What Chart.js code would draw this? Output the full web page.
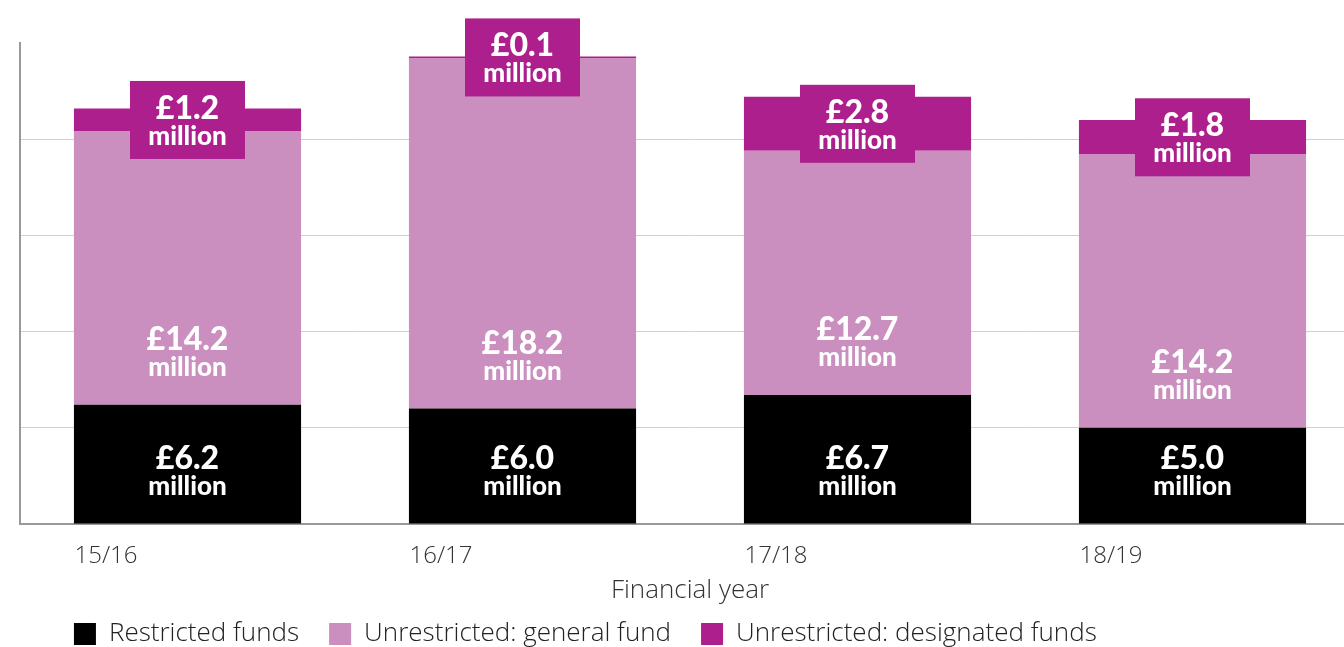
<!DOCTYPE html>
<html>
<head>
<meta charset="utf-8">
<script src="https://cdn.jsdelivr.net/npm/chart.js@4.4.0/dist/chart.umd.min.js"></script>
<style>
  html, body { margin: 0; padding: 0; background: #fff; overflow: hidden; }
  #wrap { width: 1380px; height: 670px; position: relative; }
</style>
</head>
<body>
<div id="wrap"><canvas id="reserves"></canvas></div>
<script>
const years = ['15/16', '16/17', '17/18', '18/19'];
const restricted = [6.2, 6.0, 6.7, 5.0];
const generalFund = [14.2, 18.2, 12.7, 14.2];
const designated = [1.2, 0.1, 2.8, 1.8];
const seriesNames = ['Restricted funds', 'Unrestricted: general fund', 'Unrestricted: designated funds'];
const yTicks = [0, 5, 10, 15, 20, 25];

const BLACK = '#000000';
const PINK = '#ca8ebf';
const MAGENTA = '#ac1f8d';
const BAR_PCT = 0.678;
const tickFont = { family: '"Open Sans"', size: 24, weight: '300' };
const textFont = { family: '"Open Sans"', size: 26, weight: '300' };

// white "£x.x million" labels; the top series sits on a magenta tab
const segmentLabels = {
  id: 'segmentLabels',
  afterDatasetsDraw(chart) {
    const ctx = chart.ctx;
    ctx.save();
    ctx.textAlign = 'center';
    ctx.textBaseline = 'alphabetic';
    chart.data.datasets.forEach((ds, di) => {
      chart.getDatasetMeta(di).data.forEach((bar, i) => {
        const { x, y, base } = bar.getProps(['x', 'y', 'base'], true);
        let cy;
        if (di === 2) {
          cy = (y + base) / 2;
          ctx.fillStyle = MAGENTA;
          ctx.fillRect(x - 57.5, cy - 39, 115, 78);
        } else {
          cy = base - 54;
        }
        ctx.fillStyle = '#fff';
        ctx.font = '900 32px Lato';
        ctx.fillText('£' + ds.data[i].toFixed(1), x, cy - 1);
        ctx.font = '900 26px Lato';
        ctx.fillText('million', x, cy + 25);
      });
    });
    ctx.restore();
  }
};

// start the legend row under the left edge of the first bar
const legendInset = {
  id: 'legendInset',
  afterLayout(chart) {
    const xs = chart.scales.x;
    const barLeft = xs.getPixelForTick(0) - (xs.width / years.length) * BAR_PCT / 2;
    chart.legend.left = barLeft - chart.legend.options.labels.padding;
  }
};

new Chart(document.getElementById('reserves'), {
  type: 'bar',
  data: {
    labels: years,
    datasets: [
      { label: seriesNames[0], data: restricted, backgroundColor: BLACK },
      { label: seriesNames[1], data: generalFund, backgroundColor: PINK },
      { label: seriesNames[2], data: designated, backgroundColor: MAGENTA }
    ]
  },
  options: {
    responsive: true,
    maintainAspectRatio: false,
    animation: false,
    layout: { padding: { top: 43, left: 20, right: 20, bottom: 13 } },
    datasets: { bar: { categoryPercentage: 1, barPercentage: BAR_PCT, borderWidth: 0 } },
    plugins: {
      legend: {
        position: 'bottom',
        align: 'start',
        labels: { boxWidth: 22, boxHeight: 22, padding: 30, color: '#222', font: textFont }
      },
      tooltip: { enabled: false }
    },
    scales: {
      x: {
        stacked: true,
        grid: { display: false, drawTicks: false },
        border: { display: true, color: '#999', width: 2 },
        ticks: { align: 'start', labelOffset: -113, padding: 18, color: '#333', font: tickFont },
        title: { display: true, text: 'Financial year', color: '#333', font: textFont, padding: { top: -14, bottom: -15 } }
      },
      y: {
        stacked: true,
        min: yTicks[0],
        max: yTicks[yTicks.length - 1],
        afterBuildTicks: s => { s.ticks = yTicks.map(v => ({ value: v })); },
        ticks: { display: false },
        grid: {
          drawTicks: false,
          color: c => (c.tick.value === 0 || c.tick.value === 25) ? 'rgba(0,0,0,0)' : '#d0d0d0'
        },
        border: { color: '#999', width: 2 }
      }
    }
  },
  plugins: [segmentLabels, legendInset]
});
</script>
</body>
</html>
